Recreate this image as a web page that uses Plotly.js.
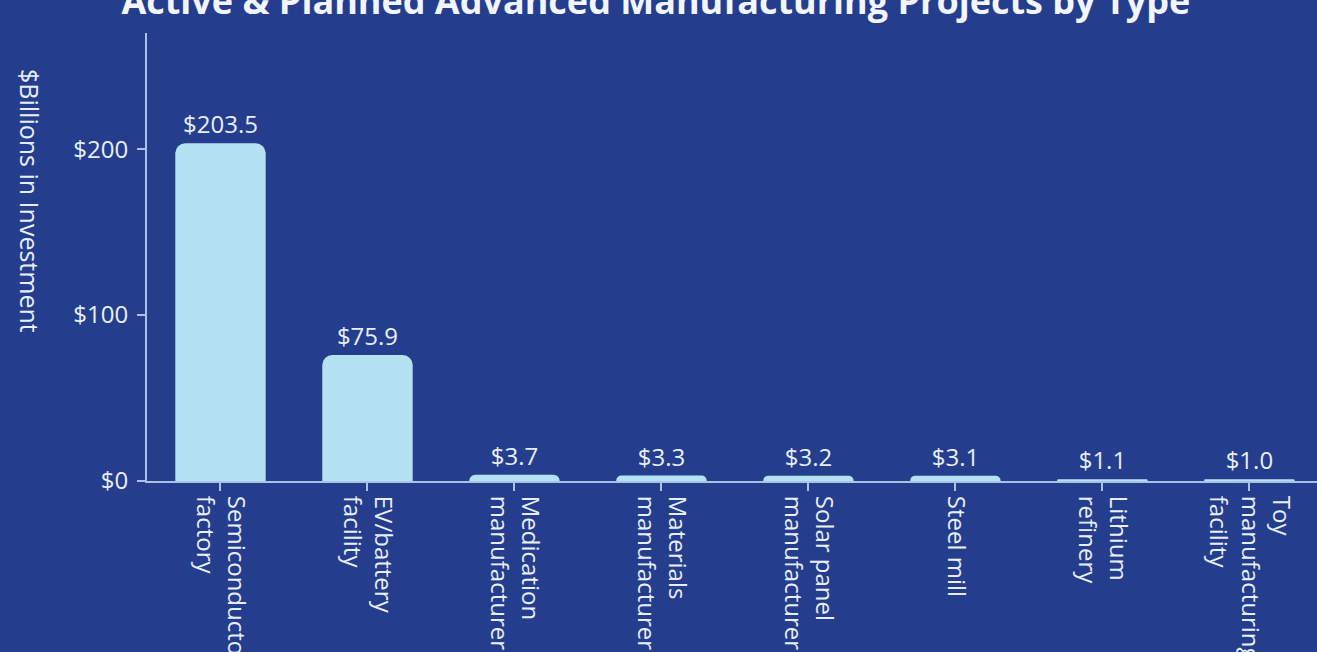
<!DOCTYPE html>
<html>
<head>
<meta charset="utf-8">
<script src="https://cdn.plot.ly/plotly-3.0.1.min.js"></script>
<style>
html,body{margin:0;padding:0;background:#243e8d;overflow:hidden;}
#chart{width:1317px;height:652px;}
</style>
</head>
<body>
<div id="chart"></div>
<script>
const categories = [
  "Semiconductor<br>factory",
  "EV/battery<br>facility",
  "Medication<br>manufacturer",
  "Materials<br>manufacturer",
  "Solar panel<br>manufacturer",
  "Steel mill",
  "Lithium<br>refinery",
  "Toy<br>manufacturing<br>facility"
];
const investment = [203.5, 75.9, 3.7, 3.3, 3.2, 3.1, 1.1, 1.0];
const titleText = "Active & Planned Advanced Manufacturing Projects by Type";
const yTitleText = "$Billions in Investment";
const yTickValues = [0, 100, 200];
const yTickLabels = ["$0", "$100", "$200"];

const bg = "#243e8d";
const barColor = "#b4e2f3";
const textColor = "#e8eef8";
const axisColor = "#a9c3e6";
const font = "Open Sans, sans-serif";

const trace = {
  type: "bar",
  x: categories,
  y: investment,
  marker: {color: barColor, cornerradius: 10},
  texttemplate: "$%{y:.1f}",
  textposition: "outside",
  textfont: {family: font, size: 24, color: textColor},
  cliponaxis: false,
  hoverinfo: "skip"
};

const layout = {
  width: 1317,
  height: 652,
  paper_bgcolor: bg,
  plot_bgcolor: bg,
  margin: {l: 147, r: 0, t: 33, b: 171},
  bargap: 0.385,
  showlegend: false,
  font: {family: font, color: textColor, size: 24},
  title: {
    text: "<b>" + titleText + "</b>",
    font: {family: font, size: 36, color: "#f2f5fb"},
    x: 0.498, xanchor: "center",
    yref: "container", y: 0.998, yanchor: "middle"
  },
  xaxis: {
    type: "category",
    range: [-0.5, 7.46],
    showline: true, linecolor: axisColor, linewidth: 2,
    ticks: "outside", ticklen: 8, tickwidth: 2, tickcolor: axisColor,
    tickangle: 90,
    tickfont: {family: font, size: 24, color: textColor},
    showgrid: false, zeroline: false
  },
  yaxis: {
    range: [0, 270],
    tickvals: yTickValues,
    ticktext: yTickLabels,
    showline: true, linecolor: axisColor, linewidth: 2,
    ticks: "outside", ticklen: 8, tickwidth: 2, tickcolor: axisColor,
    ticklabelstandoff: 4,
    tickfont: {family: font, size: 24, color: textColor},
    showgrid: false, zeroline: false
  },
  annotations: [{
    text: yTitleText,
    xref: "paper", yref: "paper",
    x: -0.1, y: 0.625,
    xanchor: "center", yanchor: "middle",
    textangle: 90,
    showarrow: false,
    font: {family: font, size: 25, color: textColor}
  }]
};

Plotly.newPlot("chart", [trace], layout, {displayModeBar: false, staticPlot: true});
</script>
</body>
</html>
